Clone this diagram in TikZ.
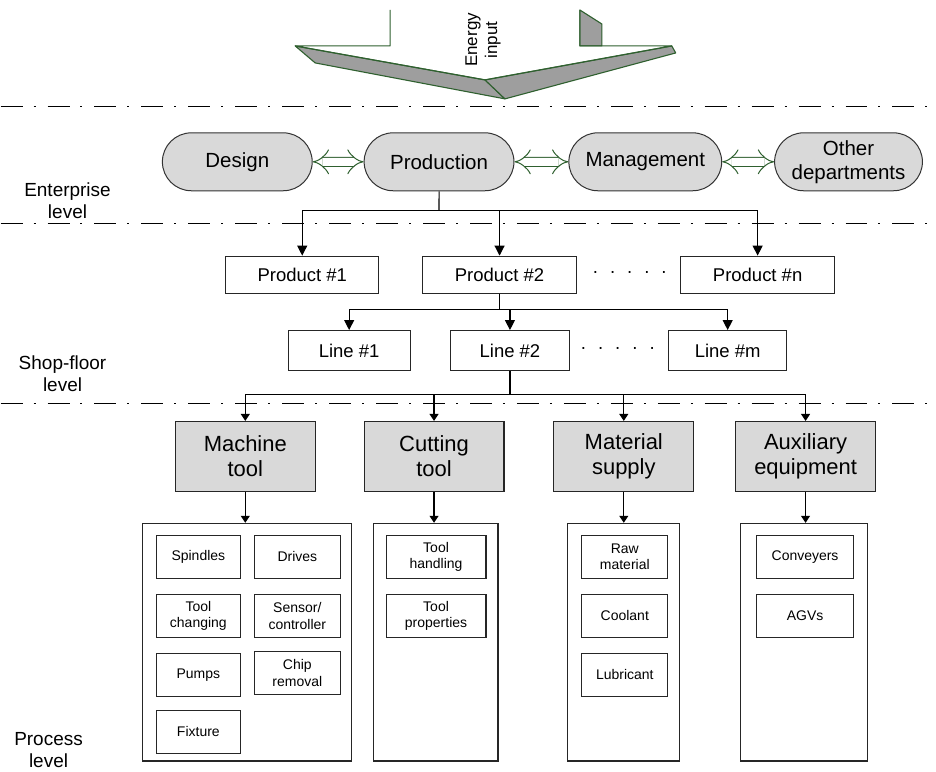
\documentclass[tikz,border=0pt]{standalone}
\usepackage{fontspec}
\setmainfont{Liberation Sans}
\usetikzlibrary{arrows.meta, positioning, shapes.misc}
\definecolor{boxgray}{RGB}{217,217,217}
\definecolor{shadegray}{RGB}{158,158,158}
\definecolor{energygreen}{RGB}{47,96,47}
\newcommand{\gapdots}{·\hspace{11pt}·\hspace{11pt}·\hspace{11pt}·\hspace{11pt}·}

\begin{document}
\begin{tikzpicture}[
    x=1pt, y=-1pt,
    node distance=15pt,
    every node/.style={font=\fontsize{18.5}{21}\selectfont},
    dept/.style={rounded rectangle, minimum width=150pt, minimum height=58pt, inner sep=0pt,
                 align=center, draw=black!80, fill=boxgray, line width=1pt,
                 font=\fontsize{20.5}{24}\selectfont},
    unit/.style={rectangle, minimum height=37pt, inner sep=0pt, draw=black!85, line width=1.1pt},
    group/.style={rectangle, minimum width=140pt, minimum height=70pt, inner sep=0pt,
                  align=center, draw=black!85, fill=boxgray, line width=1.1pt,
                  font=\fontsize{22}{25}\selectfont},
    container/.style={rectangle, minimum height=238pt, inner sep=0pt, draw=black!85, line width=1.1pt},
    subbox/.style={rectangle, minimum height=43pt, inner sep=0pt, align=center,
                   draw=black!85, line width=1.1pt, font=\fontsize{14}{16.5}\selectfont},
    levellabel/.style={align=center, font=\fontsize{19}{22}\selectfont},
    levelline/.style={line width=1.2pt, dash pattern=on 22pt off 11pt on 2pt off 12pt},
    energyface/.style={fill=shadegray, draw=energygreen, line width=1.1pt, line join=round},
    link/.style={{Implies}-{Implies}, double, double distance=8pt, draw=energygreen, line width=1pt},
    arrow/.style={-{Triangle[width=10pt,length=10pt]}, line width=1.1pt},
    smallarrow/.style={-{Triangle[width=9pt,length=7pt]}, line width=1.1pt}
]
\path[fill=white] (0,0) rectangle (936,772);

% Energy input
\path[energyface] (295,46) -- (315,63) -- (505,99) -- (485,80) -- cycle;
\path[energyface] (485,80) -- (505,99) -- (676,53) -- (672,46) -- cycle;
\path[energyface] (580,10) -- (602,24) -- (602,46) -- (580,46) -- cycle;
\draw[energygreen, line width=1.1pt, line join=round]
    (390,10) -- (390,46) -- (295,46) -- (485,80) -- (672,46) -- (580,46) -- (580,10);
\node (energy) [rotate=90, align=center, font=\fontsize{17}{20}\selectfont] at (483,40) {Energy\\input};

% Level separators
\draw[levelline] (0,107) -- (936,107);
\draw[levelline] (0,224) -- (936,224);
\draw[levelline] (0,404) -- (936,404);

% Levels
\node (enterprise) [levellabel] at (67,201) {Enterprise\\level};
\node (shopfloor) [levellabel] at (62,374) {Shop-floor\\level};
\node (process) [levellabel] at (48,751) {Process\\level};

% Enterprise
\node (design) [dept] at (237,162) {Design};
\node (production) [dept, right=51pt of design] {Production};
\node (management) [dept, minimum width=153pt, right=54pt of production] {Management};
\node (others) [dept, minimum width=148pt, right=52pt of management] {Other\\departments};

\draw [link] (design) -- (production);
\draw [link] (production) -- (management);
\draw [link] (management) -- (others);

% Products
\node (prod1) [unit, minimum width=153pt] at (302,275) {Product \#1};
\node (prod2) [unit, minimum width=154pt, right=43pt of prod1] {Product \#2};
\node (proddots) at (630,275) {\gapdots};
\node (prodn) [unit, minimum width=154pt] at (758,275) {Product \#n};

% Lines
\node (line1) [unit, minimum width=122pt, minimum height=40pt] at (349,351) {Line \#1};
\node (line2) [unit, minimum width=119pt, minimum height=40pt] at (510,351) {Line \#2};
\node (linedots) at (618,351) {\gapdots};
\node (linem) [unit, minimum width=118pt, minimum height=40pt] at (728,351) {Line \#m};

% Process
\node (machine) [group] at (245,457) {Machine\\tool};
\node (cutting) [group] at (434,457) {Cutting\\tool};
\node (material) [group] at (624,457) {Material\\supply};
\node (auxiliary) [group] at (806,457) {Auxiliary\\equipment};

\node (machineBox) [container, minimum width=209pt] at (246.5,643) {};
\node (cuttingBox) [container, minimum width=125pt] at (435.5,643) {};
\node (materialBox) [container, minimum width=112pt] at (624,643) {};
\node (auxBox) [container, minimum width=127pt] at (804.5,643) {};

% Machine tool parts
\node (spindles) [subbox, minimum width=84pt] at (198,557.5) {Spindles};
\node (toolchange) [subbox, minimum width=84pt, below=of spindles] {Tool\\changing};
\node (pumps) [subbox, minimum width=84pt, below=of toolchange] {Pumps};
\node (fixture) [subbox, minimum width=84pt, below=13pt of pumps] {Fixture};
\node (drives) [subbox, minimum width=86pt, right=13pt of spindles] {Drives};
\node (sensor) [subbox, minimum width=86pt, below=of drives] {Sensor/\\controller};
\node (chip) [subbox, minimum width=86pt, below=13pt of sensor] {Chip\\removal};

% Cutting tool parts
\node (handling) [subbox, minimum width=100pt] at (436,557.5) {Tool\\handling};
\node (properties) [subbox, minimum width=100pt, below=of handling] {Tool\\properties};

% Material supply parts
\node (raw) [subbox, minimum width=86pt] at (625,557.5) {Raw\\material};
\node (coolant) [subbox, minimum width=86pt, below=of raw] {Coolant};
\node (lubricant) [subbox, minimum width=86pt, below=of coolant] {Lubricant};

% Auxiliary equipment parts
\node (conveyers) [subbox, minimum width=97pt] at (805.5,557.5) {Conveyers};
\node (agvs) [subbox, minimum width=97pt, below=of conveyers] {AGVs};

% Arrows
\coordinate [below=19pt of production] (busA);
\draw [line width=1.1pt] (production) -- (busA);
\draw [arrow] (busA) -| (prod1);
\draw [arrow] (busA) -| (prod2);
\draw [arrow] (busA) -| (prodn);

\coordinate [below=16pt of prod2] (busB);
\draw [line width=1.1pt] (prod2) -- (busB);
\draw [arrow] (busB) -| (line1);
\draw [arrow] (busB) -| (line2);
\draw [arrow] (busB) -| (linem);

\coordinate [below=23pt of line2] (busC);
\draw [line width=1.1pt] (line2) -- (busC);
\draw [smallarrow] (busC) -| (machine);
\draw [smallarrow] (busC) -| (cutting);
\draw [smallarrow] (busC) -| (material);
\draw [smallarrow] (busC) -| (auxiliary);

\draw [smallarrow] (machine) -- (machine |- machineBox.north);
\draw [smallarrow] (cutting) -- (cutting |- cuttingBox.north);
\draw [smallarrow] (material) -- (material |- materialBox.north);
\draw [smallarrow] (auxiliary) -- (auxiliary |- auxBox.north);

\end{tikzpicture}
\end{document}
